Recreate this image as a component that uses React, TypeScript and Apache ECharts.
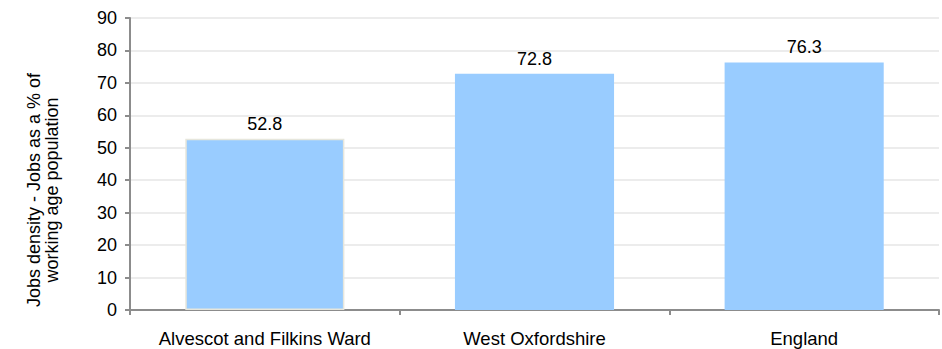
import React, { useEffect, useRef } from "react";
import * as echarts from "echarts";

const categories = ["Alvescot and Filkins Ward", "West Oxfordshire", "England"];
const values = [52.8, 72.8, 76.3];
const yTicks = { min: 0, max: 90, interval: 10 };
const yAxisTitle = "Jobs density - Jobs as a % of\nworking age population";

export default function App() {
  const ref = useRef<HTMLDivElement>(null);
  useEffect(() => {
    if (!ref.current) return;
    const chart = echarts.init(ref.current, null, { renderer: "svg" });
    const font = "Liberation Sans, Arial, sans-serif";
    chart.setOption({
      animation: false,
      textStyle: { fontFamily: font },
      grid: { left: 130, right: 3, top: 18, bottom: 39 },
      graphic: [
        {
          type: "text",
          x: 43,
          y: 190,
          rotation: Math.PI / 2,
          style: {
            text: yAxisTitle,
            fill: "#000",
            font: `18px ${font}`,
            lineHeight: 18,
            align: "center",
            verticalAlign: "middle",
          },
        },
      ],
      xAxis: {
        type: "category",
        data: categories,
        axisLine: { lineStyle: { color: "#8c8c8c", width: 2 } },
        axisTick: { show: true, length: 5, lineStyle: { color: "#8c8c8c", width: 2 } },
        axisLabel: {
          color: "#000",
          fontSize: 18.5,
          margin: 19,
          fontFamily: font,
          interval: 0,
          hideOverlap: false,
        },
      },
      yAxis: {
        type: "value",
        min: yTicks.min,
        max: yTicks.max,
        interval: yTicks.interval,
        axisLine: { show: true, lineStyle: { color: "#8c8c8c", width: 2 } },
        axisTick: { show: true, length: 5, lineStyle: { color: "#8c8c8c", width: 2 } },
        axisLabel: { color: "#000", fontSize: 18, margin: 13, fontFamily: font },
        splitLine: { lineStyle: { color: "#ececec", width: 2 } },
      },
      series: [
        {
          type: "bar",
          barWidth: "59%",
          data: values.map((v, i) =>
            i === 0
              ? { value: v, itemStyle: { borderColor: "#e6e6dc", borderWidth: 1.5 } }
              : v
          ),
          itemStyle: { color: "#99ccff" },
          label: {
            show: true,
            position: "top",
            distance: 6,
            color: "#000",
            fontSize: 18,
            fontFamily: font,
            formatter: (p: any) => p.value.toFixed(1),
          },
        },
      ],
    });
    return () => chart.dispose();
  }, []);
  return (
    <div
      ref={ref}
      style={{ position: "absolute", left: 0, top: 0, width: 942, height: 349 }}
    />
  );
}
